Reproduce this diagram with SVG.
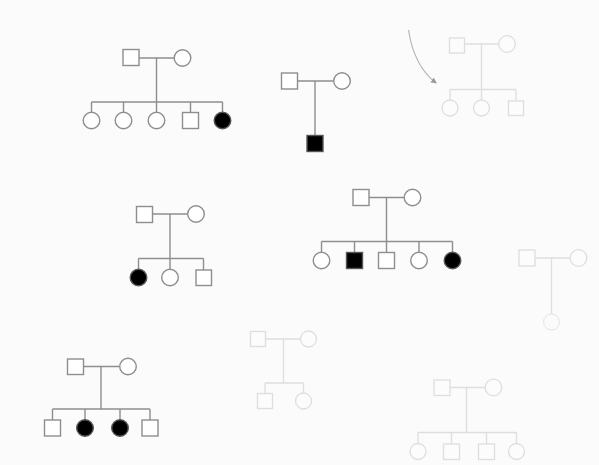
<svg xmlns="http://www.w3.org/2000/svg" width="599" height="465" viewBox="0 0 599 465">
<defs>
<style>
.ln{stroke:#8e8e8e;stroke-width:1.4;fill:none}
.m{stroke:#8e8e8e;stroke-width:1.4;fill:#fff}
.a{stroke:#555;stroke-width:1.4;fill:#000}
.fl{stroke:#dedede;stroke-width:1.3;fill:none}
.fm{stroke:#dedede;stroke-width:1.3;fill:#fcfcfc}
</style>
<marker id="ah" viewBox="0 0 6 6" refX="5" refY="3" markerWidth="5" markerHeight="5" orient="auto"><path d="M0,0 L6,3 L0,6 z" fill="#999"/></marker>
</defs>
<rect width="599" height="465" fill="#fbfbfb"/>
<g id="connectors">
<path class="ln" d="M139,58 H174 M156.5,58 V102 M91.5,102 H222.5 M91.5,102 V112 M123.5,102 V112 M156.5,102 V112 M190.5,102 V112.5 M222.5,102 V112"/>
<path class="ln" d="M297.5,81 H333.5 M315,81 V135.5"/>
<path class="fl" d="M464,44 H498.5 M481.5,44 V89.5 M450,89.5 H516 M450,89.5 V100 M481.5,89.5 V100 M516,89.5 V101"/>
<path d="M408.5,30 Q414,66 436,83" stroke="#b5b5b5" stroke-width="1.2" fill="none" marker-end="url(#ah)"/>
<path class="ln" d="M152.5,214 H188 M170,214 V258.5 M138.5,258.5 H203.5 M138.5,258.5 V269.5 M170,258.5 V269.5 M203.5,258.5 V270"/>
<path class="ln" d="M369,197.5 H404 M386.5,197.5 V241.5 M321.5,241.5 H452.5 M321.5,241.5 V252 M354.5,241.5 V252.5 M386.5,241.5 V252.5 M419,241.5 V252 M452.5,241.5 V252"/>
<path class="fl" d="M535,258 H570 M551.5,258 V314"/>
<path class="ln" d="M83.5,366.5 H119.5 M101,366.5 V409 M52.5,409 H150 M52.5,409 V420 M85,409 V420 M120,409 V420 M150,409 V420"/>
<path class="fl" d="M265.5,339 H300 M283.5,339 V383 M265,383 H303.5 M265,383 V393.5 M303.5,383 V393"/>
<path class="fl" d="M450,387.5 H485 M466.5,387.5 V432.5 M418,432.5 H516.5 M418,432.5 V443.5 M451.5,432.5 V444 M486.5,432.5 V444 M516.5,432.5 V443.5"/>
</g>
<g id="p1">
<rect class="m" x="123" y="49.5" width="16" height="16"/>
<circle class="m" cx="182.5" cy="58" r="8.3"/>
<circle class="m" cx="91.5" cy="120.5" r="8.3"/>
<circle class="m" cx="123.5" cy="120.5" r="8.3"/>
<circle class="m" cx="156.5" cy="120.5" r="8.3"/>
<rect class="m" x="182.5" y="112.5" width="16" height="16"/>
<circle class="a" cx="222.5" cy="120.5" r="8.3"/>
</g>
<g id="p2">
<rect class="m" x="281.5" y="73" width="16" height="16"/>
<circle class="m" cx="342" cy="81" r="8.3"/>
<rect class="a" x="307" y="135.5" width="16" height="16"/>
</g>
<g id="p3">
<rect class="fm" x="449.5" y="38" width="15" height="15"/>
<circle class="fm" cx="507" cy="44" r="8.3"/>
<circle class="fm" cx="450" cy="108" r="8"/>
<circle class="fm" cx="481.5" cy="108" r="8"/>
<rect class="fm" x="508.5" y="101" width="15" height="14.5"/>
</g>
<g id="p4">
<rect class="m" x="136.5" y="206.5" width="16" height="16"/>
<circle class="m" cx="196" cy="214" r="8.3"/>
<circle class="a" cx="138.5" cy="277.5" r="8.3"/>
<circle class="m" cx="170" cy="277.5" r="8.3"/>
<rect class="m" x="196" y="270" width="15.5" height="15.5"/>
</g>
<g id="p5">
<rect class="m" x="353" y="189.5" width="16" height="16"/>
<circle class="m" cx="412.5" cy="197.5" r="8.3"/>
<circle class="m" cx="321.5" cy="260.5" r="8.3"/>
<rect class="a" x="346.5" y="252.5" width="16" height="16"/>
<rect class="m" x="378.5" y="252.5" width="16" height="16"/>
<circle class="m" cx="419" cy="260.5" r="8.3"/>
<circle class="a" cx="452.5" cy="260.5" r="8.3"/>
</g>
<g id="p6">
<rect class="fm" x="519" y="250" width="16" height="16"/>
<circle class="fm" cx="578.5" cy="258" r="8.3"/>
<circle class="fm" cx="551.5" cy="322" r="8" opacity="0.6"/>
</g>
<g id="p7">
<rect class="m" x="67.5" y="359" width="16" height="15.5"/>
<circle class="m" cx="128" cy="366.5" r="8.3"/>
<rect class="m" x="44.5" y="420" width="16" height="16"/>
<circle class="a" cx="85" cy="428" r="8.3"/>
<circle class="a" cx="120" cy="428" r="8.3"/>
<rect class="m" x="142" y="420" width="16" height="16"/>
</g>
<g id="p8">
<rect class="fm" x="250.5" y="331.5" width="15" height="15"/>
<circle class="fm" cx="308.5" cy="339" r="8"/>
<rect class="fm" x="257.5" y="393.5" width="15" height="15"/>
<circle class="fm" cx="303.5" cy="401" r="8"/>
</g>
<g id="p9">
<rect class="fm" x="434" y="380" width="16" height="15.5"/>
<circle class="fm" cx="493.5" cy="387.5" r="8.3"/>
<circle class="fm" cx="418" cy="451.5" r="8"/>
<rect class="fm" x="443.5" y="444" width="16" height="15.5"/>
<rect class="fm" x="478.5" y="444" width="16" height="15.5"/>
<circle class="fm" cx="516.5" cy="451.5" r="8"/>
</g>
</svg>
